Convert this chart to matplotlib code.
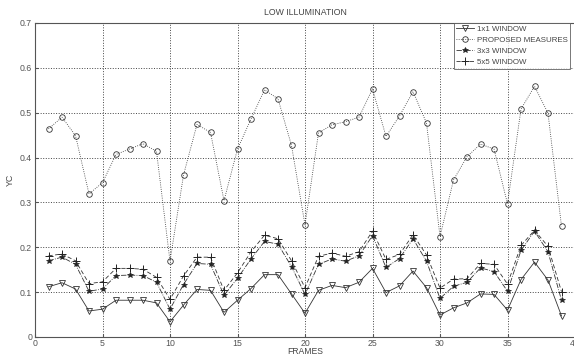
import numpy as np
import matplotlib
matplotlib.use("Agg")
from matplotlib import pyplot as plt

plt.rcParams['font.family'] = ['Liberation Sans', 'DejaVu Sans']

frames = list(range(1, 40))

win1 = [0.112, 0.121, 0.107, 0.058, 0.062, 0.082, 0.082, 0.082, 0.076, 0.034,
        0.071, 0.106, 0.104, 0.055, 0.082, 0.108, 0.139, 0.139, 0.096, 0.053,
        0.104, 0.115, 0.110, 0.122, 0.153, 0.099, 0.114, 0.147, 0.110, 0.049,
        0.065, 0.076, 0.096, 0.095, 0.060, 0.128, 0.167, 0.127, 0.047]

proposed = [0.464, 0.490, 0.449, 0.319, 0.344, 0.407, 0.419, 0.431, 0.414, 0.169,
            0.361, 0.474, 0.456, 0.304, 0.419, 0.486, 0.551, 0.531, 0.427, 0.250,
            0.455, 0.473, 0.480, 0.490, 0.553, 0.447, 0.493, 0.547, 0.477, 0.224,
            0.350, 0.402, 0.430, 0.419, 0.297, 0.508, 0.559, 0.499, 0.247]

win3 = [0.170, 0.178, 0.162, 0.102, 0.107, 0.137, 0.138, 0.137, 0.122, 0.062,
        0.117, 0.164, 0.162, 0.093, 0.131, 0.174, 0.213, 0.207, 0.157, 0.095,
        0.162, 0.174, 0.169, 0.181, 0.226, 0.155, 0.175, 0.219, 0.169, 0.086,
        0.113, 0.122, 0.154, 0.146, 0.102, 0.193, 0.236, 0.190, 0.082]

win5 = [0.181, 0.185, 0.170, 0.119, 0.123, 0.153, 0.153, 0.151, 0.133, 0.084,
        0.136, 0.178, 0.178, 0.104, 0.143, 0.190, 0.227, 0.219, 0.170, 0.110,
        0.180, 0.187, 0.180, 0.190, 0.236, 0.173, 0.184, 0.228, 0.183, 0.109,
        0.129, 0.130, 0.164, 0.162, 0.118, 0.204, 0.238, 0.202, 0.101]

fig = plt.figure(figsize=(5.74, 3.56), dpi=100)
ax = fig.add_axes([35 / 574, 19 / 356, 540 / 574, 314 / 356])

lw = 0.6
ax.plot(frames, win1, '-', color='#333333', lw=lw, marker='v', ms=4,
        mfc='none', mec='#333333', mew=0.6, label='1x1 WINDOW')
ax.plot(frames, proposed, ':', color='#333333', lw=lw, marker='o', ms=4,
        mfc='none', mec='#333333', mew=0.6, label='PROPOSED MEASURES')
ax.plot(frames, win3, '-.', color='#333333', lw=lw, marker='*', ms=4,
        mfc='#222222', mec='#222222', mew=0.5, label='3x3 WINDOW')
ax.plot(frames, win5, '--', color='#333333', lw=lw, marker='+', ms=6,
        mec='#222222', mew=0.7, label='5x5 WINDOW', dashes=(5, 3))

ax.set_xlim(0, 40)
ax.set_ylim(0, 0.7)
ax.set_xticks(range(0, 41, 5))
ax.set_yticks(np.arange(0, 0.71, 0.1))
ax.set_yticklabels(['0', '0.1', '0.2', '0.3', '0.4', '0.5', '0.6', '0.7'])
ax.grid(True, linestyle=':', color='#444444', lw=0.7)
ax.tick_params(labelsize=6.3, colors='#555555', length=2, direction='in', pad=2)
ax.tick_params(axis='x', pad=1.5)
for s in ax.spines.values():
    s.set_color('#555555')
    s.set_linewidth(0.8)

ax.set_title('LOW ILLUMINATION', fontsize=6.3, color='#444444', pad=6)
ax.set_xlabel('FRAMES', fontsize=6.2, color='#444444', labelpad=-0.5)
ax.set_ylabel('YC', fontsize=6.3, color='#444444', labelpad=4)

leg = ax.legend(loc='upper right', fontsize=5.7, frameon=True, fancybox=False,
                edgecolor='#555555', borderpad=0.3, labelspacing=0.45,
                handlelength=2.3, handletextpad=0.3, borderaxespad=0.0,
                bbox_to_anchor=(1 - 5 / 540, 1.0))
leg.get_frame().set_linewidth(0.7)
for t in leg.get_texts():
    t.set_color('#444444')

fig.savefig('out.png', dpi=100)
